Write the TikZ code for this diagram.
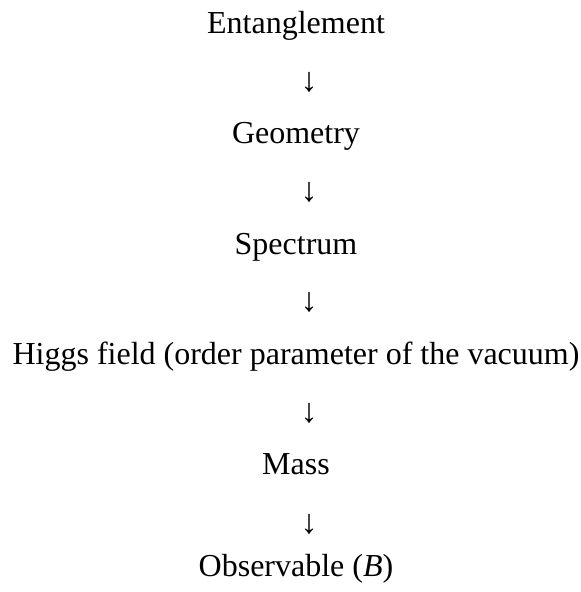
\documentclass[tikz,border=0pt]{standalone}
\usepackage{fontspec}
\setmainfont{Liberation Serif}
\begin{document}
\begin{tikzpicture}[x=1pt,y=1pt,
  lbl/.style={anchor=base,inner sep=0pt,font=\fontsize{32}{38}\selectfont},
  arr/.style={anchor=base,inner sep=0pt,font=\fontsize{34}{40}\selectfont}]
\useasboundingbox (0,0) rectangle (581,-592);
\node[lbl] (ent) at (296,-33) {Entanglement};
\node[arr] (a1) at (309,-91) {↓};
\node[lbl] (geo) at (296,-143) {Geometry};
\node[arr] (a2) at (309,-201) {↓};
\node[lbl] (spec) at (296,-254) {Spectrum};
\node[arr] (a3) at (309,-311) {↓};
\node[lbl] (higgs) at (296,-364) {Higgs field (order parameter of the vacuum)};
\node[arr] (a4) at (309,-422) {↓};
\node[lbl] (mass) at (296,-474) {Mass};
\node[arr] (a5) at (309,-533) {↓};
\node[lbl] (obs) at (296,-576) {Observable (\textit{B})};
\end{tikzpicture}
\end{document}
